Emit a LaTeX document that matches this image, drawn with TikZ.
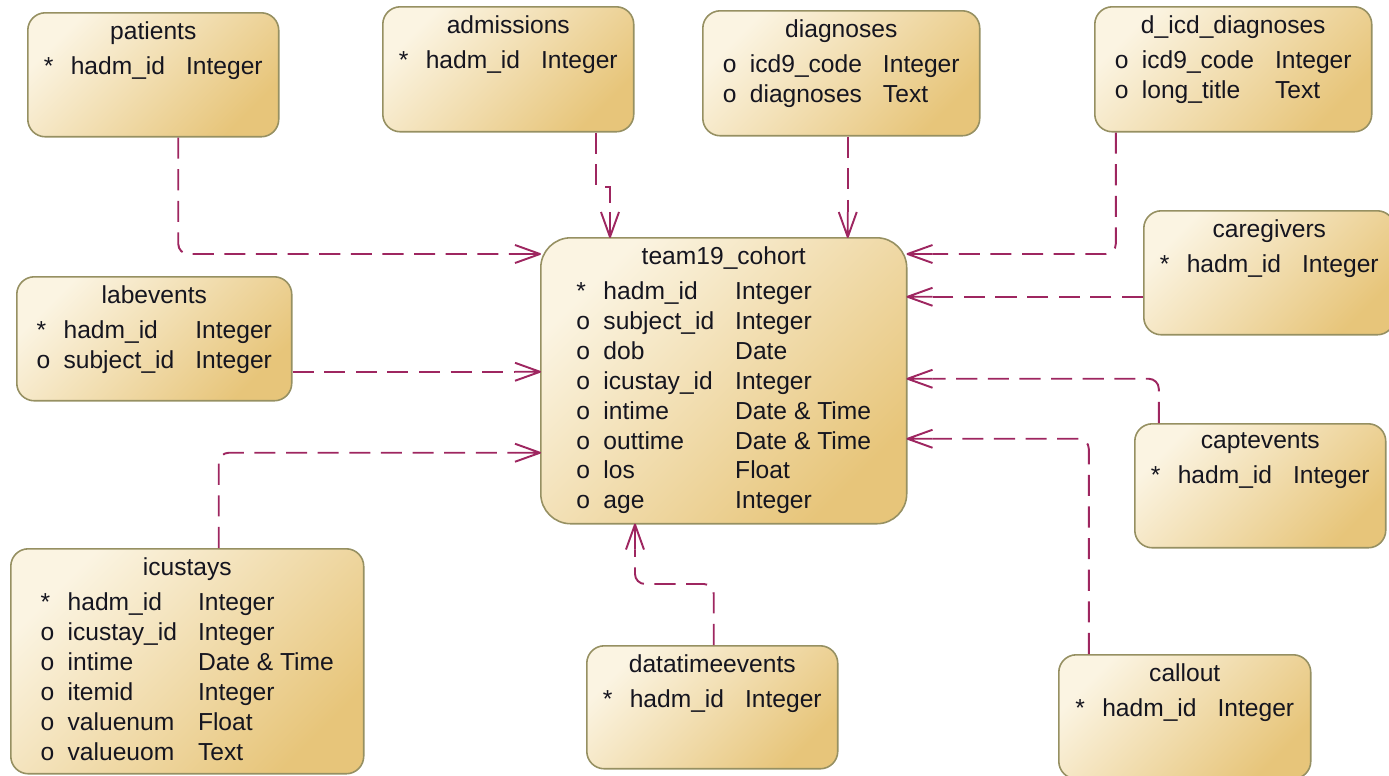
\documentclass[tikz,border=0pt]{standalone}
\usepackage{fontspec}
\setmainfont{Liberation Sans}
\usepackage{array}
\usetikzlibrary{arrows.meta, positioning}
\definecolor{entLight}{HTML}{FBF4E2}
\definecolor{entDark}{HTML}{E7C57A}
\definecolor{entBorder}{HTML}{969062}
\definecolor{entText}{HTML}{15151F}
\definecolor{relColor}{HTML}{9E2660}

% open crow's foot (many side of a relation)
\pgfdeclarearrow{
  name = crowfoot,
  parameters = {\the\pgfarrowlength,\the\pgfarrowwidth},
  setup code = {
    \pgfarrowssettipend{0pt}
    \pgfarrowssetlineend{-\pgfarrowlength}
    \pgfarrowssetvisualbackend{-\pgfarrowlength}
    \pgfarrowssetbackend{-\pgfarrowlength}
    \pgfarrowshullpoint{0pt}{0pt}
    \pgfarrowshullpoint{-\pgfarrowlength}{.5\pgfarrowwidth}
    \pgfarrowshullpoint{-\pgfarrowlength}{-.5\pgfarrowwidth}
    \pgfarrowssavethe\pgfarrowlength
    \pgfarrowssavethe\pgfarrowwidth
  },
  drawing code = {
    \pgfsetdash{}{0pt}
    \pgfsetroundjoin
    \pgfpathmoveto{\pgfqpoint{-\pgfarrowlength}{.5\pgfarrowwidth}}
    \pgfpathlineto{\pgfpointorigin}
    \pgfpathlineto{\pgfqpoint{-\pgfarrowlength}{-.5\pgfarrowwidth}}
    \pgfpathmoveto{\pgfqpoint{-\pgfarrowlength}{0pt}}
    \pgfpathlineto{\pgfpointorigin}
    \pgfusepathqstroke
  },
  defaults = {length=14pt, width=9pt}
}

\newcommand{\erbox}[4]{%
  \begin{minipage}[t][\dimexpr#2-0.36cm\relax][t]{#1}\centering
  #3\\[3pt]
  \begin{tabular}[t]{@{}p{0.54cm}@{}l@{\hspace{0.42cm}}l@{}}#4\end{tabular}
  \end{minipage}}

\tikzset{
  entity/.style={draw=entBorder, line width=0.9pt, rounded corners=0.35cm,
    top color=entLight, bottom color=entDark, shading angle=45,
    anchor=north west, inner xsep=0pt, inner ysep=0.18cm, text=entText,
    font=\fontsize{14pt}{17pt}\selectfont},
  rel/.style={relColor, line width=1.1pt, dash pattern=on 12pt off 6pt,
    rounded corners=0.2cm, -{crowfoot[length=0.5cm, width=0.36cm]}}
}

\begin{document}
\begin{tikzpicture}[x=0.02cm, y=-0.02cm]
\useasboundingbox (0,0) rectangle (1389,775);
\node[entity] (patients) at (27,12) {\erbox{5.02cm}{2.48cm}{patients}{* & hadm\_id & Integer}};
\node[entity] (admissions) at (382,6) {\erbox{5.02cm}{2.50cm}{admissions}{* & hadm\_id & Integer}};
\node[entity] (diagnoses) at (702,10) {\erbox{5.54cm}{2.50cm}{diagnoses}{o & icd9\_code & Integer\\ o & diagnoses & Text}};
\node[entity] (dicd) at (1094,6) {\erbox{5.54cm}{2.50cm}{d\_icd\_diagnoses}{o & icd9\_code & Integer\\ o & long\_title & Text}};
\node[entity] (caregivers) at (1143,210) {\erbox{5.02cm}{2.48cm}{caregivers}{* & hadm\_id & Integer}};
\node[entity] (labevents) at (16,276) {\erbox{5.50cm}{2.48cm}{labevents}{* & hadm\_id & Integer\\ o & subject\_id & Integer}};
\node[entity, rounded corners=0.6cm] (cohort) at (540,237) {\erbox{7.32cm}{5.72cm}{team19\_cohort}{* & hadm\_id & Integer\\ o & subject\_id & Integer\\ o & dob & Date\\ o & icustay\_id & Integer\\ o & intime & Date \& Time\\ o & outtime & Date \& Time\\ o & los & Float\\ o & age & Integer}};
\node[entity] (captevents) at (1134,423) {\erbox{5.02cm}{2.48cm}{captevents}{* & hadm\_id & Integer}};
\node[entity] (icustays) at (10,548) {\erbox{7.06cm}{4.50cm}{icustays}{* & hadm\_id & Integer\\ o & icustay\_id & Integer\\ o & intime & Date \& Time\\ o & itemid & Integer\\ o & valuenum & Float\\ o & valueuom & Text}};
\node[entity] (datatime) at (586,645) {\erbox{5.02cm}{2.46cm}{datatimeevents}{* & hadm\_id & Integer}};
\node[entity] (callout) at (1058,654) {\erbox{5.04cm}{2.48cm}{callout}{* & hadm\_id & Integer}};

% relations into the cohort table
\draw[rel] ([xshift=0.5cm]patients.south) |- ([yshift=-0.34cm]cohort.north west);
\draw[rel, sharp corners] ([xshift=1.75cm]admissions.south) -- ++(0,54) -| ([xshift=1.4cm]cohort.north west);
\draw[rel] ([xshift=0.13cm]diagnoses.south) -- ([xshift=0.13cm]diagnoses.south |- cohort.north);
\draw[rel] ([xshift=-2.35cm]dicd.south) |- ([yshift=-0.34cm]cohort.north east);
\draw[rel] ([yshift=-0.48cm]caregivers.west) -- ([yshift=-0.48cm]caregivers.west -| cohort.east);
\draw[rel] ([yshift=-0.66cm]labevents.east) -- ([yshift=-0.66cm]labevents.east -| cohort.west);
\draw[rel] ([xshift=0.63cm]icustays.north) |- ([yshift=-1.44cm]cohort.west);
\draw[rel] ([xshift=-2.03cm]captevents.north) |- ([yshift=0.04cm]cohort.east);
\draw[rel] ([xshift=-1.92cm]callout.north) |- ([yshift=-1.16cm]cohort.east);
\draw[rel] ([xshift=0.03cm]datatime.north) -- ++(0,-61) -| ([xshift=1.9cm]cohort.south west);
\end{tikzpicture}
\end{document}
